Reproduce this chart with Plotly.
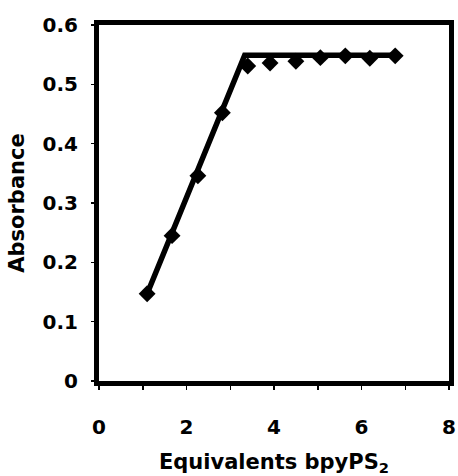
import plotly.graph_objects as go

# measured data points
equivalents = [1.10, 1.67, 2.26, 2.82, 3.40, 3.91, 4.50, 5.06, 5.63, 6.19, 6.77]
absorbance = [0.147, 0.245, 0.346, 0.452, 0.531, 0.536, 0.539, 0.545, 0.548, 0.544, 0.548]

# fitted lines (rising segment, plateau)
fit_x = [1.10, 3.33, 6.77]
fit_y = [0.147, 0.549, 0.549]

x_tickvals = [0, 2, 4, 6, 8]
y_tickvals = [0, 0.1, 0.2, 0.3, 0.4, 0.5, 0.6]
y_ticktext = ["0", "0.1", "0.2", "0.3", "0.4", "0.5", "0.6"]

FONT = "DejaVu Sans"

fig = go.Figure()
fig.add_trace(go.Scatter(
    x=fit_x, y=fit_y, mode="lines",
    line=dict(color="black", width=5.5),
    showlegend=False, hoverinfo="skip",
))
fig.add_trace(go.Scatter(
    x=equivalents, y=absorbance, mode="markers",
    marker=dict(symbol="diamond", size=13, color="black"),
    showlegend=False, hoverinfo="skip",
))

fig.update_layout(
    width=458, height=476,
    margin=dict(l=99, r=9, t=25, b=95),
    paper_bgcolor="white", plot_bgcolor="white",
    hovermode=False,
    font=dict(family=FONT, color="black", size=20, weight="bold"),
)
fig.update_xaxes(
    range=[0, 8], tickvals=x_tickvals, ticks="outside", ticklen=4, tickwidth=1.5,
    tickcolor="black", showgrid=False, zeroline=False, automargin=False,
    showline=True, linewidth=5, linecolor="black", mirror=True,
    ticklabelstandoff=20,
    minor=dict(dtick=1, ticks="outside", ticklen=4, tickwidth=1.5, tickcolor="black"),
    title=dict(text="Equivalents bpyPS<sub>2</sub>", standoff=27,
               font=dict(family=FONT, size=21, weight="bold")),
)
fig.update_yaxes(
    range=[0, 0.6], tickvals=y_tickvals, ticktext=y_ticktext, ticks="outside",
    ticklen=3, tickwidth=1.5, tickcolor="black", showgrid=False, zeroline=False,
    automargin=False,
    showline=True, linewidth=5, linecolor="black", mirror=True,
    ticklabelstandoff=9,
    title=dict(text="Absorbance", standoff=14,
               font=dict(family=FONT, size=21, weight="bold")),
)

fig.write_html(
    "out.html",
    config={"displayModeBar": False, "staticPlot": True},
    post_script="document.body.style.margin='0';document.body.style.overflow='hidden';",
)
